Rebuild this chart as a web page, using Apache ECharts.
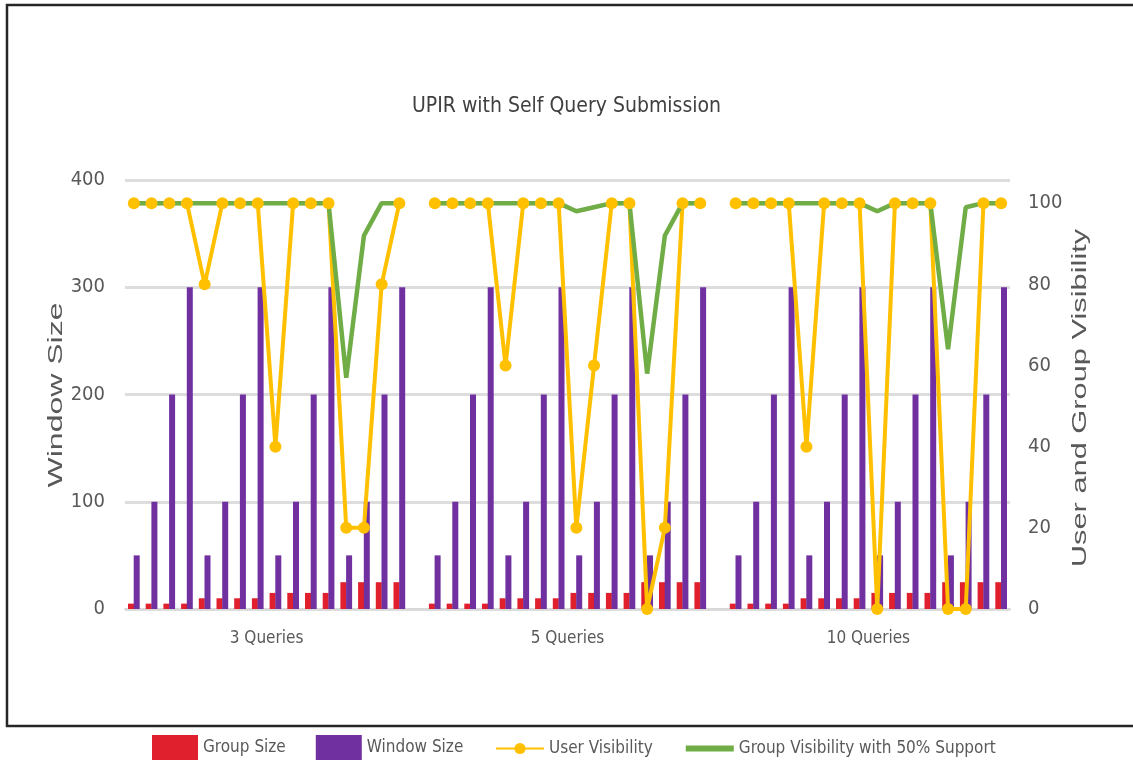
<!DOCTYPE html>
<html>
<head>
<meta charset="utf-8">
<title>UPIR with Self Query Submission</title>
<script src="https://cdn.jsdelivr.net/npm/echarts@6/dist/echarts.min.js"></script>
<style>
  html, body { margin: 0; padding: 0; background: #fff; }
  #chart { width: 1133px; height: 784px; }
</style>
</head>
<body>
<div id="chart"></div>
<script>
// query groups along the bottom axis
const groups = ['3 Queries', '5 Queries', '10 Queries']

// the same 16 settings are repeated inside every group
const windowSize = [50, 100, 200, 300, 50, 100, 200, 300, 50, 100, 200, 300, 50, 100, 200, 300]
const groupSize = [5, 5, 5, 5, 10, 10, 10, 10, 15, 15, 15, 15, 25, 25, 25, 25]

const userVis3 = [100, 100, 100, 100, 80, 100, 100, 100, 40, 100, 100, 100, 20, 20, 80, 100]
const userVis5 = [100, 100, 100, 100, 60, 100, 100, 100, 20, 60, 100, 100, 0, 20, 100, 100]
const userVis10 = [100, 100, 100, 100, 40, 100, 100, 100, 0, 100, 100, 100, 0, 0, 100, 100]

const groupVis3 = [100, 100, 100, 100, 100, 100, 100, 100, 100, 100, 100, 100, 57, 92, 100, 100]
const groupVis5 = [100, 100, 100, 100, 100, 100, 100, 100, 98, 99, 100, 100, 58, 92, 100, 100]
const groupVis10 = [100, 100, 100, 100, 100, 100, 100, 100, 98, 100, 100, 100, 64, 99, 100, 100]

const leftTicks = [0, 100, 200, 300, 400]
const rightTicks = [0, 20, 40, 60, 80, 100]

// one empty slot between groups, like the original sheet
function joinGroups(a, b, c) {
  return [...a, null, ...b, null, ...c]
}

const slots = joinGroups(windowSize, windowSize, windowSize).map((_, i) => 'c' + i)
const per = windowSize.length + 1
const groupCenters = groups.map((_, g) => g * per + (windowSize.length - 1) / 2)

const narrow = "'Liberation Sans Narrow', 'DejaVu Sans Condensed', sans-serif"
const textColor = '#595959'
const yellow = '#FFC000'
const green = '#70AD47'

const chart = echarts.init(document.getElementById('chart'))

const legendText = { fontFamily: narrow, fontSize: 17, color: textColor }

const option = {
  animation: false,
  backgroundColor: '#fff',
  title: {
    text: 'UPIR with Self Query Submission',
    left: 'center',
    top: 91,
    textStyle: { fontFamily: narrow, fontSize: 21, fontWeight: 'normal', color: '#404040' },
  },
  graphic: [
    {
      type: 'rect',
      shape: { x: 7, y: 5, width: 1140, height: 721 },
      style: { fill: 'none', stroke: '#262626', lineWidth: 2.5 },
      silent: true,
    },
    {
      type: 'text',
      x: 56, y: 395,
      rotation: Math.PI / 2,
      scaleX: 1.6,
      style: {
        text: 'Window Size',
        fontFamily: "'Liberation Sans', sans-serif",
        fontSize: 20,
        fill: textColor,
        align: 'center',
        verticalAlign: 'middle',
      },
    },
    {
      type: 'text',
      x: 1080, y: 398,
      rotation: Math.PI / 2,
      scaleX: 1.54,
      style: {
        text: 'User and Group Visibility',
        fontFamily: "'Liberation Sans', sans-serif",
        fontSize: 20,
        fill: textColor,
        align: 'center',
        verticalAlign: 'middle',
      },
    },
  ],
  legend: [
    {
      left: 147,
      top: 730,
      itemWidth: 46,
      itemHeight: 25,
      itemGap: 30,
      icon: 'rect',
      textStyle: legendText,
      data: ['Group Size', 'Window Size'],
    },
    {
      left: 490,
      top: 735,
      itemWidth: 48,
      itemHeight: 14,
      itemGap: 30,
      textStyle: legendText,
      data: [
        { name: 'User Visibility' },
        {
          name: 'Group Visibility with 50% Support',
          itemStyle: { opacity: 0 },
          lineStyle: { width: 6 },
        },
      ],
    },
  ],
  grid: { left: 125, right: 123, top: 180, bottom: 175 },
  xAxis: [
    {
      type: 'category',
      data: slots,
      axisLine: { lineStyle: { color: '#D9D9D9', width: 2 } },
      axisTick: { show: false },
      axisLabel: { show: false },
    },
    {
      type: 'value',
      position: 'bottom',
      min: -0.5,
      max: slots.length - 0.5,
      axisLine: { show: false },
      axisTick: { show: false },
      splitLine: { show: false },
      axisLabel: {
        customValues: groupCenters,
        margin: 21,
        fontFamily: narrow,
        fontSize: 17,
        color: textColor,
        formatter: v => {
          const g = groupCenters.indexOf(v)
          return g >= 0 ? groups[g] : ''
        },
      },
    },
  ],
  yAxis: [
    {
      type: 'value',
      min: leftTicks[0],
      max: leftTicks[leftTicks.length - 1],
      interval: 100,
      axisLine: { show: false },
      axisTick: { show: false },
      axisLabel: { margin: 20, fontFamily: narrow, fontSize: 20, color: textColor },
      splitLine: { lineStyle: { color: '#DDDDDD', width: 3 } },
    },
    {
      type: 'value',
      min: rightTicks[0],
      max: 105.7,
      interval: 20,
      axisLine: { show: false },
      axisTick: { show: false },
      splitLine: { show: false },
      axisLabel: {
        margin: 18,
        fontFamily: narrow,
        fontSize: 20,
        color: textColor,
        formatter: v => (rightTicks.indexOf(v) >= 0 ? String(v) : ''),
      },
    },
  ],
  series: [
    {
      name: 'Group Size',
      type: 'bar',
      data: joinGroups(groupSize, groupSize, groupSize),
      barWidth: 6,
      barGap: '-5%',
      itemStyle: { color: '#E0202C' },
    },
    {
      name: 'Window Size',
      type: 'bar',
      data: joinGroups(windowSize, windowSize, windowSize),
      barWidth: 6,
      itemStyle: { color: '#7030A0' },
    },
    {
      name: 'User Visibility',
      type: 'line',
      yAxisIndex: 1,
      data: joinGroups(userVis3, userVis5, userVis10),
      symbol: 'circle',
      symbolSize: 12,
      showSymbol: true,
      showAllSymbol: true,
      lineStyle: { color: yellow, width: 4 },
      itemStyle: { color: yellow },
    },
    {
      name: 'Group Visibility with 50% Support',
      type: 'line',
      yAxisIndex: 1,
      data: joinGroups(groupVis3, groupVis5, groupVis10),
      symbol: 'none',
      lineStyle: { color: green, width: 4.5 },
      itemStyle: { color: green },
    },
  ],
}

chart.setOption(option)
</script>
</body>
</html>
